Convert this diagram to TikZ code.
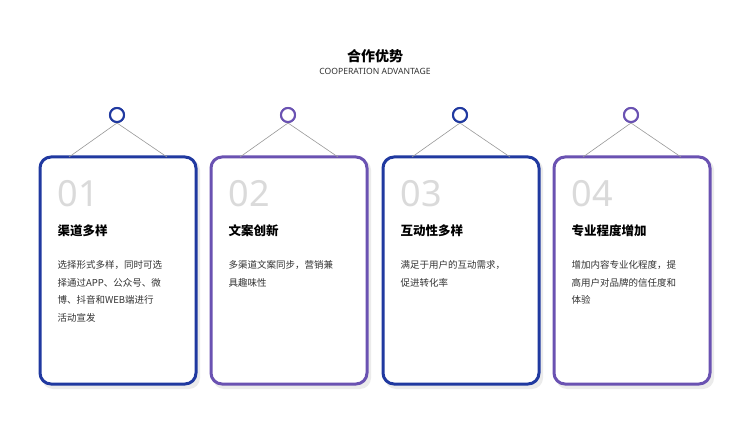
\documentclass[tikz,border=0pt]{standalone}
\usepackage{fontspec}
\setmainfont{Noto Sans CJK SC}
\newfontfamily\latinf{Noto Sans}
\definecolor{cblue}{HTML}{2039A0}
\definecolor{cpurp}{HTML}{6A52B2}
\definecolor{numgray}{HTML}{DADADA}
\tikzset{
 card/.style={draw=#1,line width=3pt,rounded corners=11pt,fill=white},
 hook/.style={draw=#1,line width=2pt,fill=white,circle,minimum size=14pt,inner sep=0pt},
 wire/.style={draw=gray!80,line width=0.6pt},
 num/.style={anchor=west,text=numgray,font=\latinf\fontsize{36}{36}\selectfont},
 ttl/.style={anchor=west,font=\fontsize{12.5}{14}\selectfont\bfseries},
 body/.style={anchor=north west,align=left,text width=125pt,font=\fontsize{9.5}{17.5}\selectfont,text=black!80},
}
\begin{document}
\begin{tikzpicture}[x=1pt,y=-1pt]
\useasboundingbox[fill=white] (0,0) rectangle (750,422);
\node[font=\fontsize{14}{16}\selectfont\bfseries] (t) at (375,56) {合作优势};
\node[font=\latinf\fontsize{8.6}{9}\selectfont,text=black!80] (st) at (375,71) {COOPERATION ADVANTAGE};
\foreach \i/\xl/\c/\n/\tt/\bd in {
 1/40/cblue/01/渠道多样/{选择形式多样，同时可选\\择通过APP、公众号、微\\博、抖音和WEB端进行\\活动宣发},
 2/211/cpurp/02/文案创新/{多渠道文案同步，营销兼\\具趣味性},
 3/383/cblue/03/互动性多样/{满足于用户的互动需求，\\促进转化率},
 4/554/cpurp/04/专业程度增加/{增加内容专业化程度，提\\高用户对品牌的信任度和\\体验}} {
 \fill[black!8,rounded corners=11pt] (\xl+2,159) rectangle (\xl+160,389);
 \draw[card=\c] (\xl,157) rectangle (\xl+156,384);
 \node[hook=\c] (h\i) at (\xl+77,115) {};
 \coordinate (l\i) at (\xl+29,157);
 \coordinate (r\i) at (\xl+127,157);
 \draw[wire] (h\i.south) -- (l\i);
 \draw[wire] (h\i.south) -- (r\i);
 \node[hook=\c] at (h\i) {};
 \node[num] (n\i) at (\xl+14,194) {\n};
 \node[ttl] (tt\i) at (\xl+14,231) {\tt};
 \node[body] (b\i) at (\xl+14,257) {\bd};
}
\end{tikzpicture}
\end{document}
